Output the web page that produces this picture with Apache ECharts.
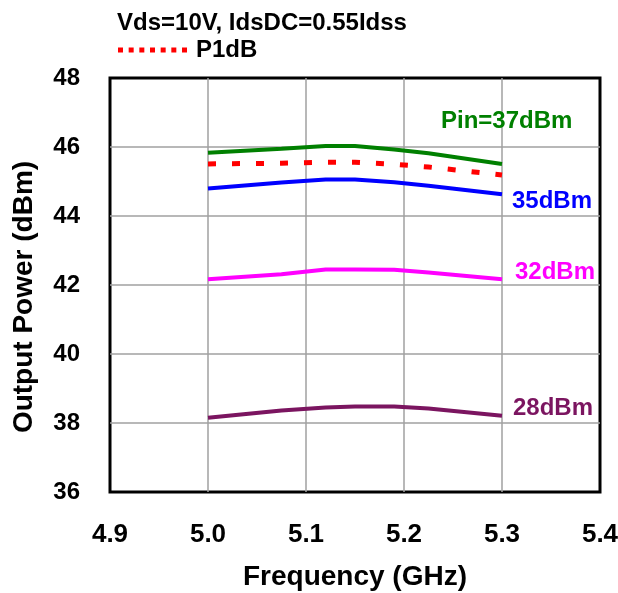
<!DOCTYPE html>
<html><head><meta charset="utf-8">
<script src="https://cdn.jsdelivr.net/npm/echarts@6/dist/echarts.min.js"></script>
<style>html,body{margin:0;padding:0;background:#fff}#c{width:618px;height:593px}</style>
</head><body><div id="c"></div>
<script>
const freq = [5.0, 5.075, 5.12, 5.15, 5.19, 5.225, 5.3];
const pin37 = [45.83, 45.95, 46.03, 46.03, 45.93, 45.82, 45.51];
const p1dB = [45.51, 45.53, 45.56, 45.56, 45.50, 45.42, 45.19];
const pin35 = [44.80, 44.97, 45.06, 45.06, 44.98, 44.88, 44.63];
const pin32 = [42.17, 42.31, 42.45, 42.45, 42.44, 42.36, 42.17];
const pin28 = [38.15, 38.36, 38.45, 38.48, 38.48, 38.42, 38.21];
const xTicks = ['4.9','5.0','5.1','5.2','5.3','5.4'];
const yTicks = ['36','38','40','42','44','46','48'];
const labels = {pin37:'Pin=37dBm', pin35:'35dBm', pin32:'32dBm', pin28:'28dBm'};

const F = 'Liberation Sans, Arial, sans-serif';
const pair = v => freq.map((f,i)=>[f, v[i]]);
function ser(name, data, color, lbl, off, dotted){
  const s = {
    name, type:'line', data: pair(data), showSymbol:false, symbol:'none', smooth:false,
    lineStyle:{color, width: dotted ? 5 : 4, type: dotted ? [8,16] : 'solid'},
    itemStyle:{color}, z: dotted?3:2, silent:true
  };
  if (lbl) s.endLabel = {show:true, formatter:lbl, color, fontFamily:F, fontWeight:'bold', fontSize:24, offset:off, distance:10};
  return s;
}
let dots = '';
for (let i = 0; i < 7; i++) { const x = (i * 64 / 6).toFixed(2); dots += `M${x},0h5v5h-5z`; }
const chart = echarts.init(document.getElementById('c'), null, {renderer:'canvas'});
chart.setOption({
  animation:false,
  title:{text:'Vds=10V, IdsDC=0.55Idss', left:117, top:11, padding:[0,0,0,0],
    textStyle:{fontFamily:F, fontWeight:'bold', fontSize:24, color:'#000'}},
  legend:{left:118, top:38, padding:0, data:['P1dB'], itemWidth:69, itemHeight:5,
    icon:'path://' + dots,
    itemStyle:{color:'#FF0000'},
    textStyle:{fontFamily:F, fontWeight:'bold', fontSize:24, color:'#000', padding:[0,0,0,4]}},
  grid:{left:110, top:78, right:18, bottom:101, outerBoundsMode:'none', containLabel:false,
    show:true, borderColor:'#000', borderWidth:3, backgroundColor:'transparent'},
  xAxis:{type:'value', min:4.9, max:5.4, interval:0.1,
    name:'Frequency (GHz)', nameLocation:'middle', nameGap:71,
    nameTextStyle:{fontFamily:F, fontWeight:'bold', fontSize:28, color:'#000'},
    axisLine:{show:false}, axisTick:{show:false},
    axisLabel:{margin:30, fontFamily:F, fontWeight:'bold', fontSize:26, color:'#000',
      formatter:v=>{const i=Math.round((v-4.9)/0.1); return xTicks[i]!==undefined?xTicks[i]:'';}},
    splitLine:{show:true, showMinLine:false, showMaxLine:false, lineStyle:{color:'#a0a0a0', width:1.5}}},
  yAxis:{type:'value', min:36, max:48, interval:2,
    name:'Output Power (dBm)', nameLocation:'middle', nameGap:72,
    nameTextStyle:{fontFamily:F, fontWeight:'bold', fontSize:28, color:'#000', padding:[0,24,0,0]},
    axisLine:{show:false}, axisTick:{show:false},
    axisLabel:{margin:30, fontFamily:F, fontWeight:'bold', fontSize:24, color:'#000',
      formatter:v=>{const i=Math.round((v-36)/2); return yTicks[i]!==undefined?yTicks[i]:'';}},
    splitLine:{show:true, showMinLine:false, showMaxLine:false, lineStyle:{color:'#a0a0a0', width:1.5}}},
  series:[
    ser('Pin37', pin37, '#008000', labels.pin37, [-71,-43]),
    ser('Pin35', pin35, '#0000FF', labels.pin35, [0,7]),
    ser('Pin32', pin32, '#FF00FF', labels.pin32, [3,-6.5]),
    ser('Pin28', pin28, '#7B1560', labels.pin28, [1,-7]),
    ser('P1dB', p1dB, '#FF0000', null, null, true)
  ]
});
</script></body></html>
